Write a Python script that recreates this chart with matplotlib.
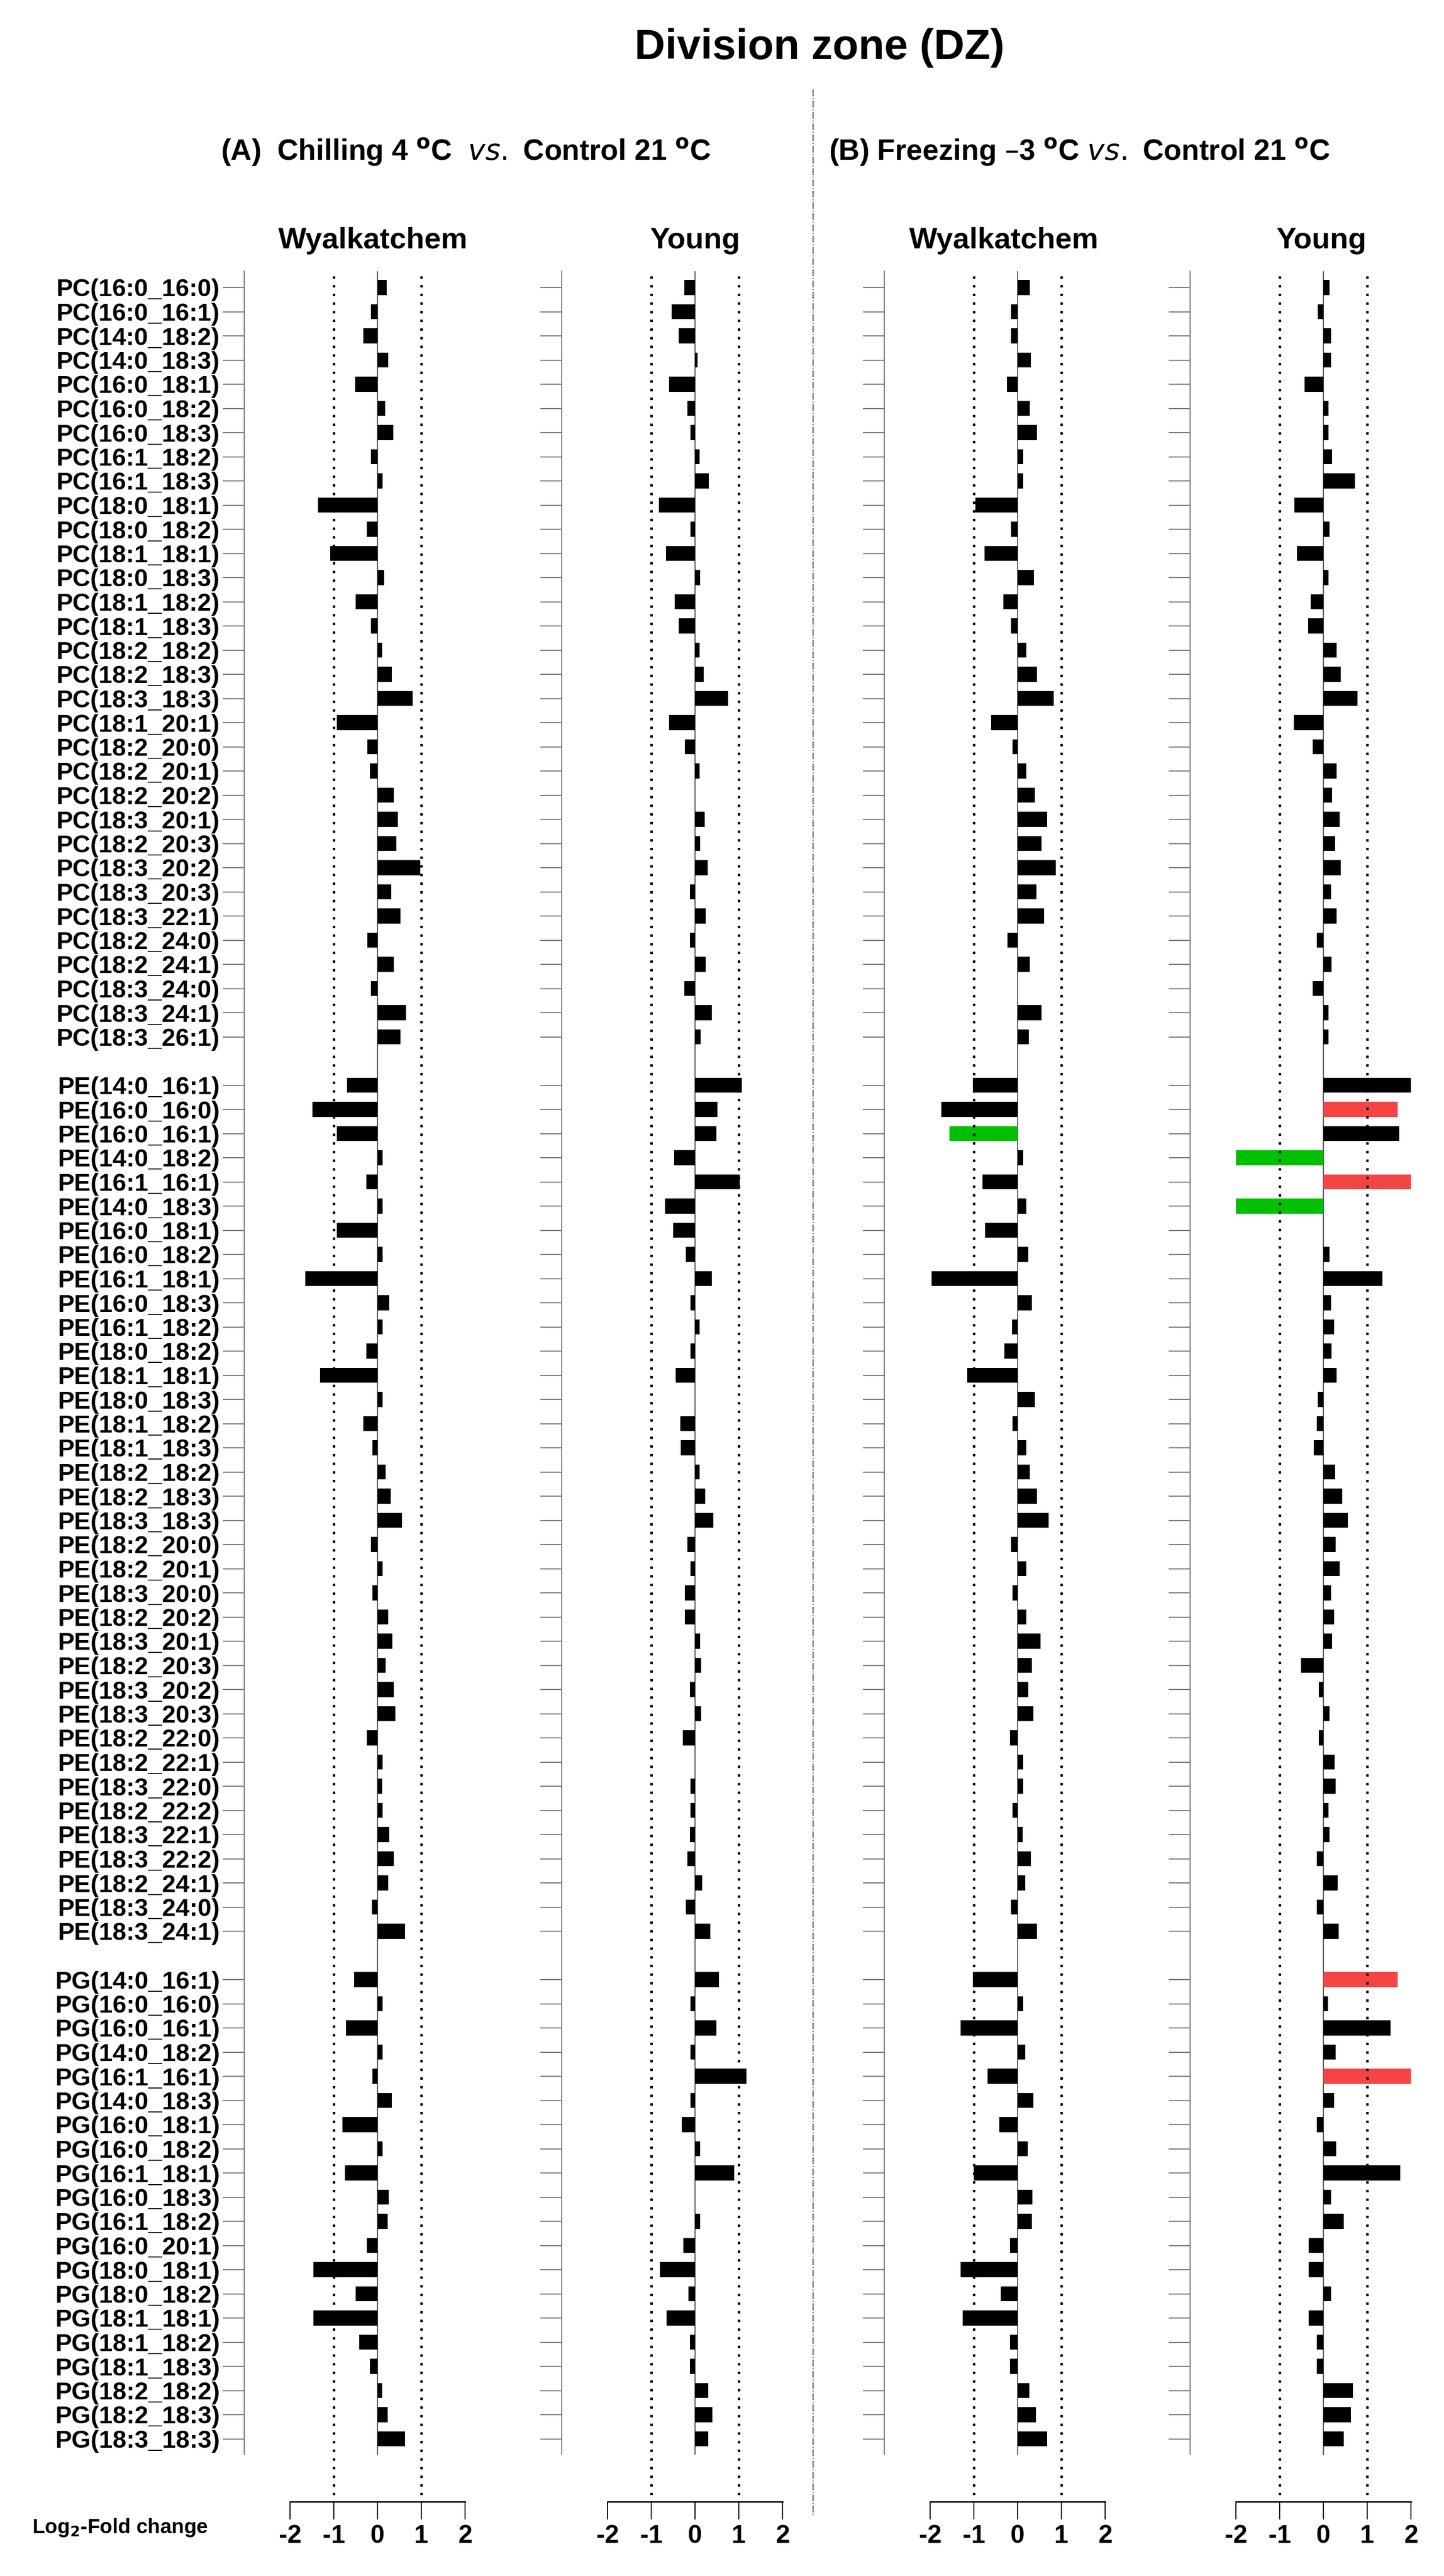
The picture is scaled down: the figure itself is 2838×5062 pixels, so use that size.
import matplotlib
matplotlib.use("Agg")
import matplotlib.pyplot as plt
from matplotlib.lines import Line2D

plt.rcParams['font.family'] = ['Liberation Sans', 'DejaVu Sans']

pc_labels = ["16:0_16:0", "16:0_16:1", "14:0_18:2", "14:0_18:3", "16:0_18:1", "16:0_18:2",
             "16:0_18:3", "16:1_18:2", "16:1_18:3", "18:0_18:1", "18:0_18:2", "18:1_18:1",
             "18:0_18:3", "18:1_18:2", "18:1_18:3", "18:2_18:2", "18:2_18:3", "18:3_18:3",
             "18:1_20:1", "18:2_20:0", "18:2_20:1", "18:2_20:2", "18:3_20:1", "18:2_20:3",
             "18:3_20:2", "18:3_20:3", "18:3_22:1", "18:2_24:0", "18:2_24:1", "18:3_24:0",
             "18:3_24:1", "18:3_26:1"]
pe_labels = ["14:0_16:1", "16:0_16:0", "16:0_16:1", "14:0_18:2", "16:1_16:1", "14:0_18:3",
             "16:0_18:1", "16:0_18:2", "16:1_18:1", "16:0_18:3", "16:1_18:2", "18:0_18:2",
             "18:1_18:1", "18:0_18:3", "18:1_18:2", "18:1_18:3", "18:2_18:2", "18:2_18:3",
             "18:3_18:3", "18:2_20:0", "18:2_20:1", "18:3_20:0", "18:2_20:2", "18:3_20:1",
             "18:2_20:3", "18:3_20:2", "18:3_20:3", "18:2_22:0", "18:2_22:1", "18:3_22:0",
             "18:2_22:2", "18:3_22:1", "18:3_22:2", "18:2_24:1", "18:3_24:0", "18:3_24:1"]
pg_labels = ["14:0_16:1", "16:0_16:0", "16:0_16:1", "14:0_18:2", "16:1_16:1", "14:0_18:3",
             "16:0_18:1", "16:0_18:2", "16:1_18:1", "16:0_18:3", "16:1_18:2", "16:0_20:1",
             "18:0_18:1", "18:0_18:2", "18:1_18:1", "18:1_18:2", "18:1_18:3", "18:2_18:2",
             "18:2_18:3", "18:3_18:3"]

# log2 fold change, chilling: Wyalkatchem
chill_wy_pc = [0.21, -0.15, -0.32, 0.24, -0.51, 0.17, 0.36, -0.15, 0.12, -1.36, -0.25, -1.08,
               0.15, -0.5, -0.15, 0.1, 0.33, 0.8, -0.93, -0.23, -0.17, 0.37, 0.46, 0.43,
               0.98, 0.31, 0.52, -0.23, 0.37, -0.15, 0.65, 0.52]
chill_wy_pe = [-0.7, -1.49, -0.93, 0.12, -0.26, 0.12, -0.93, 0.12, -1.65, 0.27, 0.12, -0.26,
               -1.31, 0.12, -0.32, -0.12, 0.19, 0.3, 0.56, -0.15, 0.12, -0.12, 0.24, 0.34,
               0.19, 0.37, 0.41, -0.25, 0.12, 0.1, 0.12, 0.27, 0.37, 0.24, -0.13, 0.63]
chill_wy_pg = [-0.54, 0.12, -0.72, 0.12, -0.12, 0.32, -0.8, 0.12, -0.74, 0.25, 0.23, -0.25,
               -1.47, -0.5, -1.47, -0.42, -0.17, 0.1, 0.23, 0.63]
# chilling: Young
chill_yo_pc = [-0.24, -0.53, -0.37, 0.06, -0.59, -0.18, -0.1, 0.1, 0.31, -0.83, -0.1, -0.66,
               0.12, -0.46, -0.37, 0.1, 0.2, 0.75, -0.59, -0.23, 0.1, 0.0, 0.22, 0.12,
               0.29, -0.12, 0.24, -0.12, 0.24, -0.24, 0.38, 0.13]
chill_yo_pe = [1.07, 0.51, 0.49, -0.48, 1.02, -0.69, -0.5, -0.21, 0.38, -0.1, 0.1, -0.1,
               -0.44, 0.0, -0.34, -0.32, 0.1, 0.23, 0.42, -0.18, -0.1, -0.23, -0.23, 0.12,
               0.14, -0.12, 0.14, -0.28, 0.0, -0.1, -0.1, -0.12, -0.18, 0.16, -0.21, 0.35]
chill_yo_pg = [0.55, -0.1, 0.49, -0.1, 1.17, -0.1, -0.3, 0.12, 0.9, 0.0, 0.12, -0.27,
               -0.8, -0.15, -0.65, -0.12, -0.12, 0.3, 0.4, 0.3]
# freezing: Wyalkatchem
frz_wy_pc = [0.28, -0.15, -0.15, 0.3, -0.25, 0.28, 0.44, 0.13, 0.13, -0.96, -0.15, -0.76,
             0.37, -0.32, -0.15, 0.2, 0.44, 0.83, -0.61, -0.12, 0.2, 0.39, 0.68, 0.55,
             0.87, 0.43, 0.61, -0.23, 0.28, 0.0, 0.55, 0.26]
frz_wy_pe = [-1.02, -1.75, -1.56, 0.13, -0.8, 0.2, -0.74, 0.24, -1.97, 0.33, -0.13, -0.3,
             -1.15, 0.39, -0.12, 0.2, 0.28, 0.44, 0.71, -0.15, 0.2, -0.12, 0.2, 0.52,
             0.33, 0.24, 0.36, -0.17, 0.13, 0.13, -0.12, 0.12, 0.3, 0.17, -0.15, 0.44]
frz_wy_pg = [-1.02, 0.13, -1.3, 0.18, -0.69, 0.36, -0.42, 0.23, -1.0, 0.34, 0.32, -0.17,
             -1.3, -0.38, -1.26, -0.17, -0.17, 0.27, 0.42, 0.67]
# freezing: Young
frz_yo_pc = [0.14, -0.13, 0.17, 0.17, -0.43, 0.12, 0.12, 0.2, 0.72, -0.66, 0.14, -0.6,
             0.12, -0.29, -0.35, 0.3, 0.4, 0.78, -0.68, -0.25, 0.3, 0.2, 0.37, 0.27,
             0.39, 0.17, 0.3, -0.15, 0.19, -0.25, 0.12, 0.12]
frz_yo_pe = [2.0, 1.7, 1.73, -2.0, 2.0, -2.0, 0.0, 0.14, 1.35, 0.17, 0.24, 0.19,
             0.3, -0.13, -0.15, -0.22, 0.27, 0.43, 0.56, 0.28, 0.37, 0.17, 0.24, 0.2,
             -0.51, -0.1, 0.14, -0.1, 0.26, 0.28, 0.12, 0.14, -0.15, 0.33, -0.15, 0.35]
frz_yo_pg = [1.7, 0.1, 1.54, 0.28, 2.0, 0.24, -0.15, 0.29, 1.75, 0.17, 0.46, -0.34,
             -0.34, 0.17, -0.34, -0.15, -0.15, 0.67, 0.63, 0.46]

# significant changes (red = up, green = down)
frz_yo_pe_col = {1: 'up', 3: 'down', 4: 'up', 5: 'down'}
frz_yo_pg_col = {0: 'up', 4: 'up'}
frz_wy_pe_col = {2: 'down'}
RED, GREEN = '#F44444', '#00C000'

W, H = 2838, 5062
fig = plt.figure(figsize=(W / 100, H / 100), dpi=100)

labels = (["PC(%s)" % s for s in pc_labels] +
          ["PE(%s)" % s for s in pe_labels] +
          ["PG(%s)" % s for s in pg_labels])
row_y = []
k = 0
for grp in (pc_labels, pe_labels, pg_labels):
    for _ in grp:
        row_y.append(k)
        k += 1
    k += 1

npc, npe = len(pc_labels), len(pe_labels)
panels = [
    (742, chill_wy_pc + chill_wy_pe + chill_wy_pg, {}),
    (1366, chill_yo_pc + chill_yo_pe + chill_yo_pg, {}),
    (2000, frz_wy_pc + frz_wy_pe + frz_wy_pg,
     {npc + i: c for i, c in frz_wy_pe_col.items()}),
    (2601, frz_yo_pc + frz_yo_pe + frz_yo_pg,
     dict([(npc + i, c) for i, c in frz_yo_pe_col.items()] +
          [(npc + npe + i, c) for i, c in frz_yo_pg_col.items()])),
]

unit = 86.0
step = 47.5
y0_px = 565
top_px, bot_px = 533, 4903
xl, xr = -3.05, 2.25
for i, (zero_px, vals, cols) in enumerate(panels):
    left = zero_px + xl * unit
    ax = fig.add_axes([left / W, 1 - bot_px / H, (xr - xl) * unit / W, (bot_px - top_px) / H])
    colors = []
    for j in range(len(vals)):
        c = cols.get(j)
        colors.append(RED if c == 'up' else GREEN if c == 'down' else 'black')
    ax.barh(row_y, vals, height=0.62, color=colors)
    ax.set_xlim(xl, xr)
    ytop = (y0_px - top_px) / step
    ybot = (bot_px - y0_px) / step
    ax.set_ylim(ybot, -ytop)
    for xv in (-1, 1):
        ax.axvline(xv, color='black', ls=(0, (1, 2.5)), lw=3.5)
    spine_end = row_y[-1] + 0.65
    ax.plot([0, 0], [-ytop, spine_end], color='#555555', lw=1.5, zorder=0)
    for s in ('top', 'right'):
        ax.spines[s].set_visible(False)
    ax.spines['left'].set_bounds(-ytop, spine_end)
    ax.spines['left'].set_color('#777777')
    ax.spines['left'].set_linewidth(1.5)
    ax.spines['bottom'].set_position(('outward', 9))
    ax.spines['bottom'].set_bounds(-2, 2)
    ax.spines['bottom'].set_linewidth(2)
    ax.set_xticks([-2, -1, 0, 1, 2])
    ax.set_xticklabels(['-2', '-1', '0', '1', '2'], fontsize=36, fontweight='bold')
    ax.tick_params(axis='x', length=25, width=1.5, pad=8)
    ax.set_yticks(row_y)
    ax.tick_params(axis='y', length=30, width=1.5, color='#777777', pad=4)
    if i == 0:
        ax.set_yticklabels(labels, fontsize=35, fontweight='bold')
    else:
        ax.set_yticklabels([])
    ax.set_facecolor('none')

# titles
fig.text(1611 / W, 1 - 94 / H, "Division zone (DZ)", fontsize=60, fontweight='bold',
         ha='center', va='center')
fig.text(434 / W, 1 - 299 / H, r"(A)  Chilling 4 $^{\mathbf{o}}$C  $\mathbf{\it{vs.}}$ Control 21 $^{\mathbf{o}}$C",
         fontsize=41, fontweight='bold', ha='left', va='center')
fig.text(1629 / W, 1 - 299 / H, "(B) Freezing \u20133 $^{\\mathbf{o}}$C $\\mathbf{\\it{vs.}}$ Control 21 $^{\\mathbf{o}}$C",
         fontsize=41, fontweight='bold', ha='left', va='center')
for xc, name in ((733, "Wyalkatchem"), (1366, "Young"), (1973, "Wyalkatchem"), (2597, "Young")):
    fig.text(xc / W, 1 - 473 / H, name, fontsize=42, fontweight='bold', ha='center', va='center')
fig.text(63 / W, 1 - 4967 / H, r"Log$_{\mathbf{2}}$-Fold change", fontsize=29, fontweight='bold',
         ha='left', va='center')

fig.add_artist(Line2D([1598 / W, 1598 / W], [1 - 176 / H, 1 - 4946 / H], transform=fig.transFigure,
                      color='#555555', lw=1.5, ls='-.'))

fig.savefig("out.png", dpi=100)
